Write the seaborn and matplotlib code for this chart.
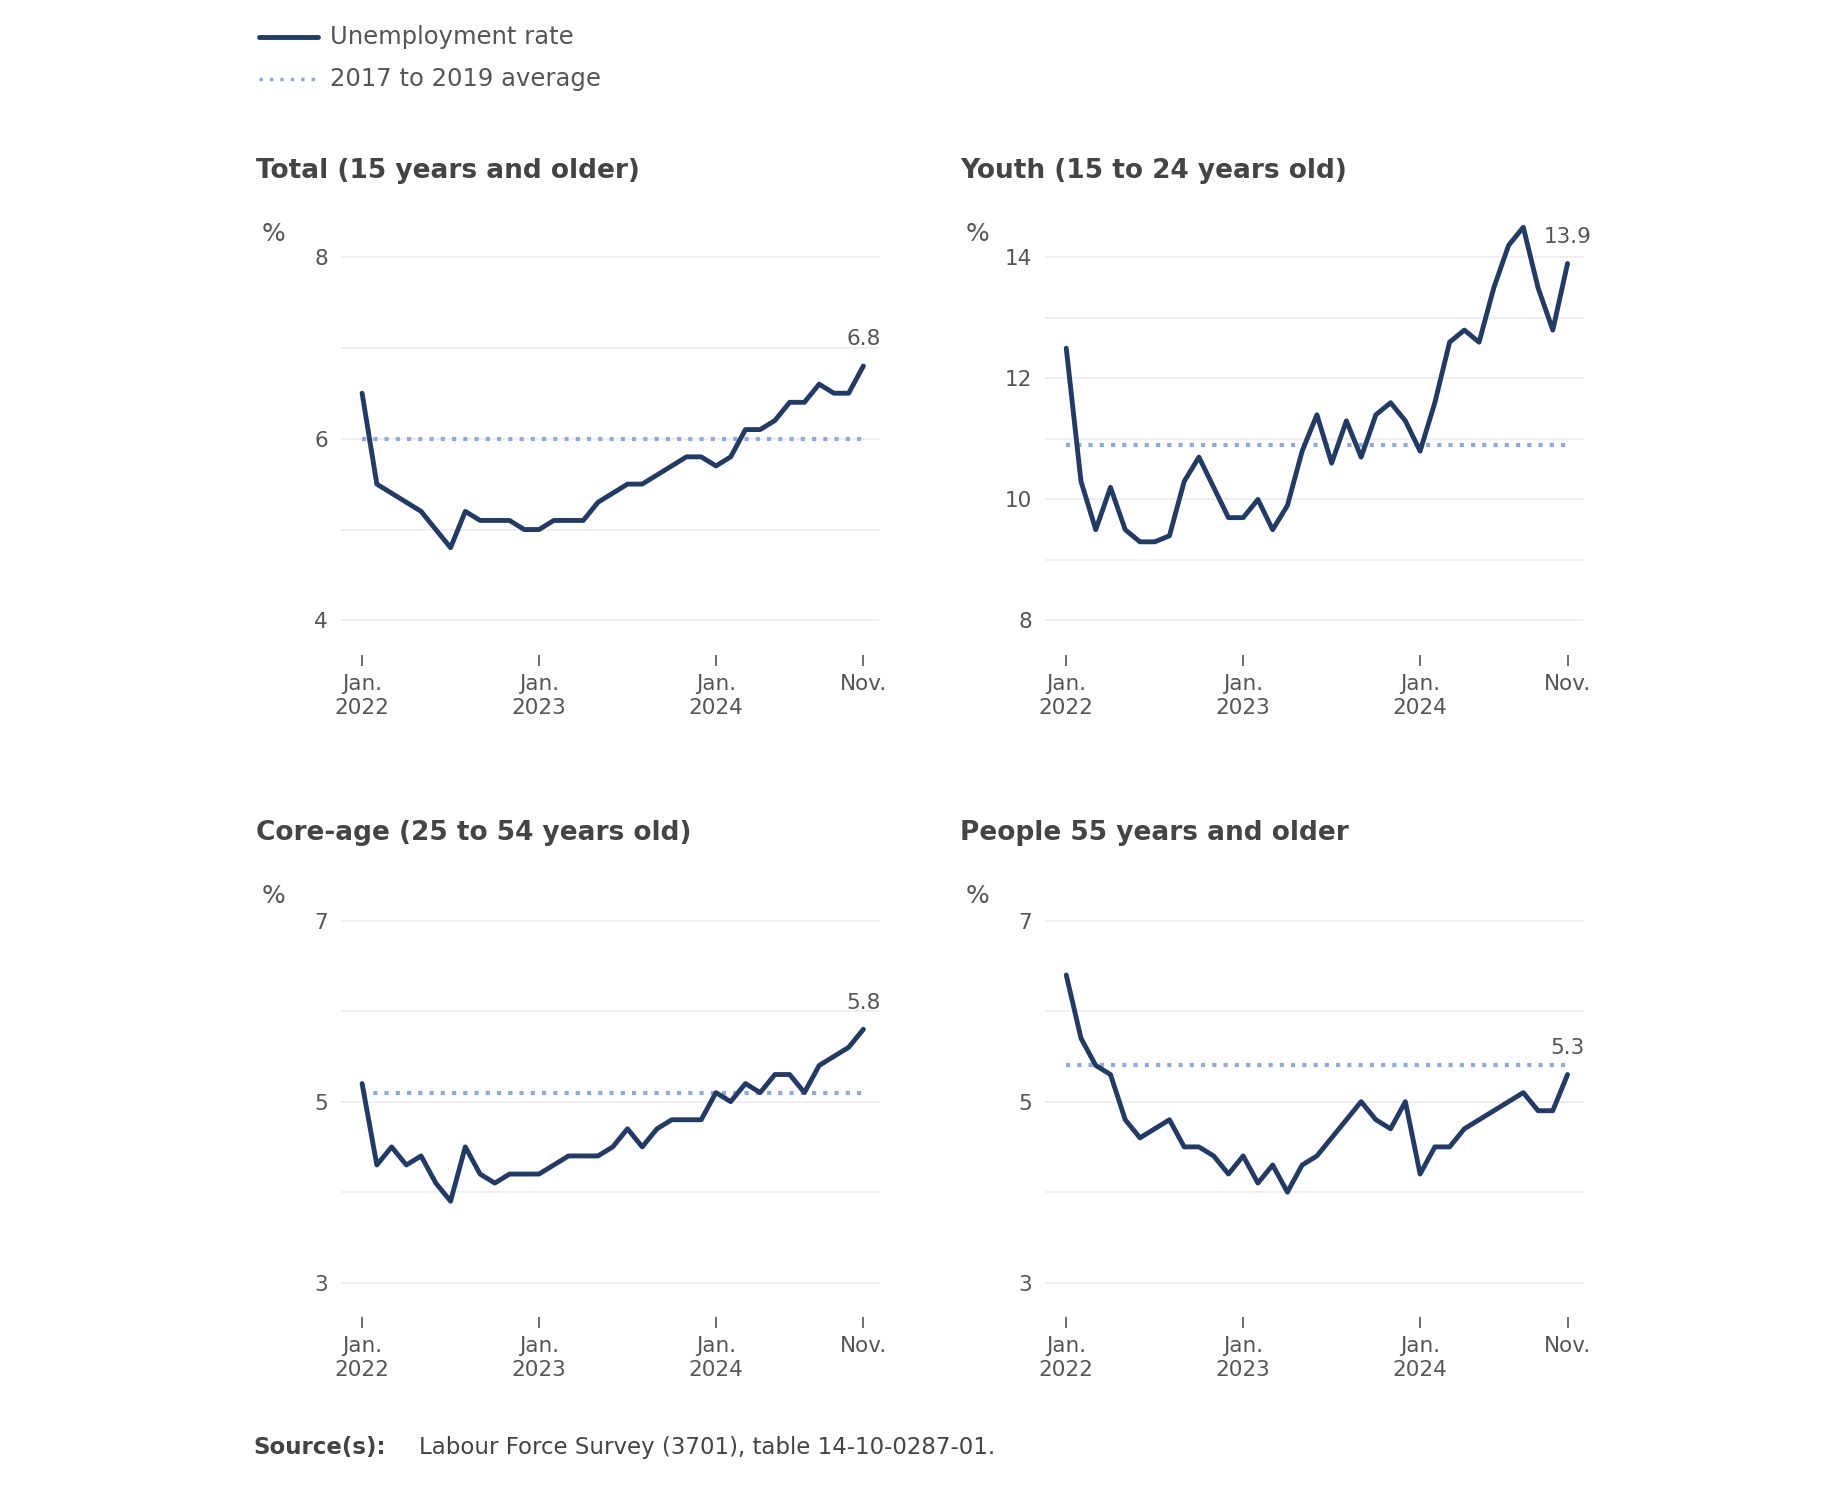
import numpy as np
import pandas as pd
import matplotlib
matplotlib.use("Agg")
import matplotlib.pyplot as plt
import seaborn as sns

months = pd.date_range("2022-01-01", "2024-11-01", freq="MS")
total = [6.5,5.5,5.4,5.3,5.2,5.0,4.8,5.2,5.1,5.1,5.1,5.0,5.0,5.1,5.1,5.1,5.3,5.4,5.5,5.5,5.6,5.7,5.8,5.8,5.7,5.8,6.1,6.1,6.2,6.4,6.4,6.6,6.5,6.5,6.8]
youth = [12.5,10.3,9.5,10.2,9.5,9.3,9.3,9.4,10.3,10.7,10.2,9.7,9.7,10.0,9.5,9.9,10.8,11.4,10.6,11.3,10.7,11.4,11.6,11.3,10.8,11.6,12.6,12.8,12.6,13.5,14.2,14.5,13.5,12.8,13.9]
core = [5.2,4.3,4.5,4.3,4.4,4.1,3.9,4.5,4.2,4.1,4.2,4.2,4.2,4.3,4.4,4.4,4.4,4.5,4.7,4.5,4.7,4.8,4.8,4.8,5.1,5.0,5.2,5.1,5.3,5.3,5.1,5.4,5.5,5.6,5.8]
older = [6.4,5.7,5.4,5.3,4.8,4.6,4.7,4.8,4.5,4.5,4.4,4.2,4.4,4.1,4.3,4.0,4.3,4.4,4.6,4.8,5.0,4.8,4.7,5.0,4.2,4.5,4.5,4.7,4.8,4.9,5.0,5.1,4.9,4.9,5.3]
averages = [6.0, 10.9, 5.1, 5.4]
titles = ["Total (15 years and older)", "Youth (15 to 24 years old)",
          "Core-age (25 to 54 years old)", "People 55 years and older"]
series = [total, youth, core, older]
yticks = [[4, 6, 8], [8, 10, 12, 14], [3, 5, 7], [3, 5, 7]]
ygrid = [[4, 5, 6, 7, 8], [8, 9, 10, 11, 12, 13, 14], [3, 4, 5, 6, 7], [3, 4, 5, 6, 7]]
ylims = [(3.62, 8.1), (7.43, 14.16), (2.62, 7.12), (2.62, 7.12)]
xtick_idx = [0, 12, 24, 34]
xtick_labels = ["Jan.\n2022", "Jan.\n2023", "Jan.\n2024", "Nov."]

sns.set_theme(style="white")
plt.rcParams['font.family'] = ['DejaVu Sans']

LINE = "#223a66"
AVG = "#8eaadb"
TXT = "#555555"

fig = plt.figure(figsize=(18.4, 14.94), dpi=100)
W, H = 1560.0, 1266.0
positions = [(290, 555), (887, 555), (290, 1116), (887, 1116)]
for i in range(4):
    x0, yb = positions[i]
    ax = fig.add_axes([x0 / W, (H - yb) / H, 455 / W, 345 / H])
    df = pd.DataFrame({"m": np.arange(len(months)), "v": series[i]})
    for g in ygrid[i]:
        ax.axhline(g, color="#ececec", lw=1.2, zorder=0)
    ax.plot([0, 34], [averages[i]] * 2, color=AVG, lw=3, ls=(0, (1, 1.7)), zorder=1)
    sns.lineplot(data=df, x="m", y="v", ax=ax, color=LINE, lw=3.5, zorder=2)
    for ln in ax.get_lines():
        ln.set_clip_on(False)
    ax.set_xlim(-1.36, 35.04)
    ax.set_ylim(*ylims[i])
    ax.set_yticks(yticks[i])
    ax.set_yticklabels([str(t) for t in yticks[i]])
    ax.set_xticks(xtick_idx)
    ax.set_xticklabels(xtick_labels)
    ax.set_xlabel("")
    ax.set_ylabel("")
    for s in ax.spines.values():
        s.set_visible(False)
    ax.tick_params(axis="x", bottom=True, length=8, width=1.2, color="#555555",
                   labelsize=15.5, labelcolor=TXT, pad=6)
    ax.tick_params(axis="y", left=False, labelsize=15.5, labelcolor=TXT, pad=4)
    last = series[i][-1]
    ax.annotate(f"{last}", (34, last), xytext=(0, 12), textcoords="offset points",
                ha="center", va="bottom", fontsize=15.5, color=TXT)
    fig.text((x0 - 68) / W, (H - (yb - 345 - 12)) / H, "%", fontsize=18, color=TXT,
             ha="left", va="center")
    fig.text((x0 - 73) / W, (H - (yb - 410)) / H, titles[i], fontsize=19,
             fontweight="bold", color="#444444", ha="left", va="center")

# legend
fig.lines.append(plt.Line2D([220 / W, 270 / W], [(H - 31) / H] * 2, color=LINE, lw=3.5,
                            transform=fig.transFigure))
fig.lines.append(plt.Line2D([220 / W, 270 / W], [(H - 67) / H] * 2, color=AVG, lw=2.5,
                            ls=(0, (1, 2)), transform=fig.transFigure))
fig.text(280 / W, (H - 31) / H, "Unemployment rate", fontsize=17.5, color=TXT, va="center")
fig.text(280 / W, (H - 67) / H, "2017 to 2019 average", fontsize=17.5, color=TXT, va="center")

fig.text(215 / W, (H - 1227) / H, "Source(s):", fontsize=16.5, fontweight="bold",
         color="#444444", va="center")
fig.text(355 / W, (H - 1227) / H, "Labour Force Survey (3701), table 14-10-0287-01.",
         fontsize=16.5, color="#444444", va="center")

fig.savefig("out.png", dpi=100, facecolor="white")
